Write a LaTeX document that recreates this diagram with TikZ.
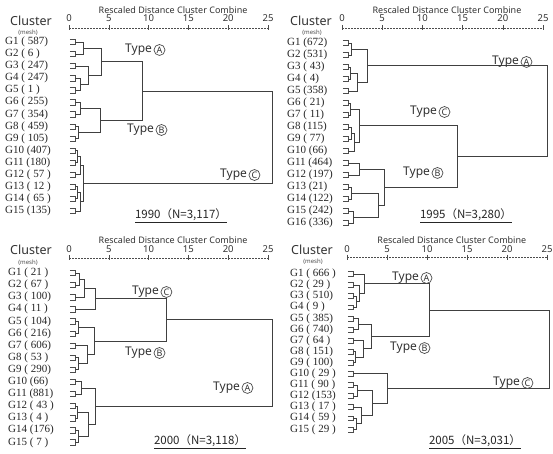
\documentclass[tikz,border=0pt]{standalone}
\usepackage{fontspec}
\setmainfont{Liberation Serif}
\setsansfont{Noto Sans}
\newfontfamily\cjkfont{Noto Sans CJK JP}
\usetikzlibrary{positioning}

% one merge of a dendrogram: child, child, distance, new name
\newcommand{\dgjoin}[4]{%
  \coordinate (#4-h) at (#3,0);
  \draw[dline] (#1) -- (#1 -| #4-h) -- coordinate[pos=0.5] (#4) (#2 -| #4-h) -- (#2);
}

\begin{document}
\begin{tikzpicture}[
  x=1pt, y=-1pt,
  dline/.style={line width=0.9pt, draw=black!75},
  leafln/.style={line width=0.6pt, draw=black!70},
  axisln/.style={line width=0.6pt, draw=black!70, dash pattern=on 1.6pt off 1.4pt},
  axtick/.style={line width=0.6pt, draw=black!70},
  glbl/.style={font=\fontsize{11}{12}\selectfont, inner sep=0pt, anchor=west, text=black!85},
  numlbl/.style={font=\sffamily\fontsize{9.5}{10}\selectfont, inner sep=0pt, text=black!80},
  ttl/.style={font=\sffamily\fontsize{9}{10}\selectfont, inner sep=0pt, text=black!80},
  clus/.style={font=\sffamily\fontsize{12.5}{13}\selectfont, inner sep=0pt, text=black!80},
  meshlbl/.style={font=\sffamily\fontsize{6}{7}\selectfont, inner sep=0pt, text=black!70},
  typelbl/.style={font=\sffamily\fontsize{12}{13}\selectfont, inner sep=0pt, anchor=west, text=black!80},
  circ/.style={draw=black!70, circle, line width=0.7pt, inner sep=0pt, minimum size=11pt,
               font=\sffamily\fontsize{9}{9}\selectfont, text=black!80},
  caplbl/.style={font=\cjkfont\fontsize{11.5}{12}\selectfont, inner sep=0pt, text=black!85},
]
\path[use as bounding box, fill=white] (0,0) rectangle (553,454);

% ================= (a) 1990 =================
\begin{scope}[shift={(69,42)}, x=7.96pt, y=-12.07pt]
  \node[ttl] (a-ttl) at (13.07,-2.65) {Rescaled Distance Cluster Combine};
  \node[clus] (a-clus) at (-4.77,-1.74) {Cluster};
  \node[meshlbl] (a-mesh) at (-5.15,-0.8) {(mesh)};
  \draw[axisln] (0,-1.16) -- (25,-1.16);
  \foreach \d in {0,5,...,25} {
    \draw[axtick] ([yshift=2.5pt]\d,-1.16) -- ([yshift=-2.5pt]\d,-1.16);
    \node[numlbl] (a-n\d) at (\d,-1.99) {\d};
  }
  % groups
  \foreach \t [count=\i from 0] in {G1 ( 587), G2 ( 6 ), G3 ( 247), G4 ( 247), G5 ( 1 ),
      G6 ( 255), G7 ( 354), G8 ( 459), G9 ( 105), G10 (407), G11 (180), G12 ( 57 ),
      G13 ( 12 ), G14 ( 65 ), G15 (135)} {
    \node[glbl] (a-g\i) at (-8.04,\i) {\t};
    \draw[leafln] (0.1,\i-0.22) -| (0.75,\i+0.22) -- (0.1,\i+0.22);
    \coordinate (a\i) at (0.75,\i);
  }
  % tree
  \foreach \p/\q/\h/\nm in {a0/a1/1.8/ax01, a3/a4/1.4/ax34, a2/ax34/2.4/ax24, ax01/ax24/4.1/aA,
      a5/a6/1.5/ax56, a7/a8/1.2/ax78, ax56/ax78/4.0/aB,
      a9/a10/1.1/ax910, ax910/a11/1.4/ax911, a12/a13/1.1/ax1213, ax1213/a14/1.4/ax1214,
      ax911/ax1214/1.8/aC, aA/aB/9.2/aAB, aAB/aC/25.6/aR} {\dgjoin{\p}{\q}{\h}{\nm}}
  % types
  \node[typelbl] (a-tA) at (7.04,0.66) {Type};
  \node[circ, right=1.5pt of a-tA] (a-cA) {A};
  \node[typelbl] (a-tB) at (7.29,7.29) {Type};
  \node[circ, right=1.5pt of a-tB] (a-cB) {B};
  \node[typelbl] (a-tC) at (18.97,11.02) {Type};
  \node[circ, right=1.5pt of a-tC] (a-cC) {C};
  \node[caplbl] (a-cap) at (14.07,14.42) {\underline{1990（N=3,117）}};
\end{scope}

% ================= (b) 1995 =================
\begin{scope}[shift={(342,43)}, x=8.04pt, y=-12pt]
  \node[ttl] (b-ttl) at (13.06,-2.75) {Rescaled Distance Cluster Combine};
  \node[clus] (b-clus) at (-3.86,-1.83) {Cluster};
  \node[meshlbl] (b-mesh) at (-3.73,-0.88) {(mesh)};
  \draw[axisln] (0,-1.25) -- (25,-1.25);
  \foreach \d in {0,5,...,25} {
    \draw[axtick] ([yshift=2.5pt]\d,-1.25) -- ([yshift=-2.5pt]\d,-1.25);
    \node[numlbl] (b-n\d) at (\d,-2.08) {\d};
  }
  % groups
  \foreach \t [count=\i from 0] in {G1 (672), G2 (531), G3 ( 43), G4 ( 4), G5 (358),
      G6 ( 21), G7 ( 11), G8 (115), G9 ( 77), G10 (66), G11 (464), G12 (197),
      G13 (21), G14 (122), G15 (242), G16 (336)} {
    \node[glbl] (b-g\i) at (-6.84,\i) {\t};
    \draw[leafln] (0.1,\i-0.22) -| (0.75,\i+0.22) -- (0.1,\i+0.22);
    \coordinate (b\i) at (0.75,\i);
  }
  % tree
  \foreach \p/\q/\h/\nm in {b0/b1/1.2/bx01, b2/b3/1.1/bx23, bx23/b4/1.9/bx24, bx01/bx24/3.2/bA,
      b5/b6/1.1/bx56, b7/b8/1.2/bx78, bx78/b9/1.6/bx79, bx56/bx79/2.2/bC,
      b10/b11/2.2/bx1011, b12/b13/1.2/bx1213, b14/b15/1.4/bx1415, bx1213/bx1415/4.5/bx1215,
      bx1011/bx1215/5.3/bB, bC/bB/14.3/bCB, bA/bCB/25.6/bR} {\dgjoin{\p}{\q}{\h}{\nm}}
  % types
  \node[typelbl] (b-tA) at (18.66,1.58) {Type};
  \node[circ, right=1.5pt of b-tA] (b-cA) {A};
  \node[typelbl] (b-tC) at (8.46,5.75) {Type};
  \node[circ, right=1.5pt of b-tC] (b-cC) {C};
  \node[typelbl] (b-tB) at (7.59,10.83) {Type};
  \node[circ, right=1.5pt of b-tB] (b-cB) {B};
  \node[caplbl] (b-cap) at (15.42,14.42) {\underline{1995（N=3,280）}};
\end{scope}

% ================= (c) 2000 =================
\begin{scope}[shift={(69,273)}, x=7.96pt, y=-12.1pt]
  \node[ttl] (c-ttl) at (13.07,-2.73) {Rescaled Distance Cluster Combine};
  \node[clus] (c-clus) at (-4.77,-1.90) {Cluster};
  \node[meshlbl] (c-mesh) at (-5.15,-0.86) {(mesh)};
  \draw[axisln] (0,-1.24) -- (25,-1.24);
  \foreach \d in {0,5,...,25} {
    \draw[axtick] ([yshift=2.5pt]\d,-1.24) -- ([yshift=-2.5pt]\d,-1.24);
    \node[numlbl] (c-n\d) at (\d,-1.98) {\d};
  }
  % groups
  \foreach \t [count=\i from 0] in {G1 ( 21 ), G2 ( 67 ), G3 ( 100), G4 ( 11 ), G5 ( 104),
      G6 ( 216), G7 ( 606), G8 ( 53 ), G9 ( 290), G10 (66), G11 (881), G12 ( 43 ),
      G13 ( 4 ), G14 (176), G15 ( 7 )} {
    \node[glbl] (c-g\i) at (-7.66,\i) {\t};
    \draw[leafln] (0.1,\i-0.22) -| (0.75,\i+0.22) -- (0.1,\i+0.22);
    \coordinate (c\i) at (0.75,\i);
  }
  % tree
  \foreach \p/\q/\h/\nm in {c0/c1/1.3/cx01, cx01/c2/2.0/cx02, cx02/c3/3.3/cC,
      c4/c5/1.2/cx45, c7/c8/1.15/cx78, c6/cx78/2.3/cx68, cx45/cx68/3.2/cB,
      c9/c10/1.6/cx910, c11/c12/1.1/cx1112, c13/c14/1.2/cx1314, cx1112/cx1314/2.4/cx1114,
      cx910/cx1114/3.3/cA, cC/cB/12.3/cCB, cCB/cA/25.6/cR} {\dgjoin{\p}{\q}{\h}{\nm}}
  % types
  \node[typelbl] (c-tC) at (7.91,1.57) {Type};
  \node[circ, right=1.5pt of c-tC] (c-cC) {C};
  \node[typelbl] (c-tB) at (7.04,6.61) {Type};
  \node[circ, right=1.5pt of c-tB] (c-cB) {B};
  \node[typelbl] (c-tA) at (18.09,9.50) {Type};
  \node[circ, right=1.5pt of c-tA] (c-cA) {A};
  \node[caplbl] (c-cap) at (16.46,13.97) {\underline{2000（N=3,118）}};
\end{scope}

% ================= (d) 2005 =================
\begin{scope}[shift={(347,274)}, x=8pt, y=-11.1pt]
  \node[ttl] (d-ttl) at (13.1,-3.06) {Rescaled Distance Cluster Combine};
  \node[clus] (d-clus) at (-4.38,-2.16) {Cluster};
  \node[meshlbl] (d-mesh) at (-4.25,-1.1) {(mesh)};
  \draw[axisln] (0,-1.53) -- (25,-1.53);
  \foreach \d in {0,5,...,25} {
    \draw[axtick] ([yshift=2.5pt]\d,-1.53) -- ([yshift=-2.5pt]\d,-1.53);
    \node[numlbl] (d-n\d) at (\d,-2.25) {\d};
  }
  % groups
  \foreach \t [count=\i from 0] in {G1 ( 666 ), G2 ( 29 ), G3 ( 510), G4 ( 9 ), G5 ( 385),
      G6 ( 740), G7 ( 64 ), G8 ( 151), G9 ( 100), G10 ( 29 ), G11 ( 90 ), G12 (153),
      G13 ( 17 ), G14 ( 59 ), G15 ( 29 )} {
    \node[glbl] (d-g\i) at (-7.13,\i) {\t};
    \draw[leafln] (0.1,\i-0.22) -| (0.75,\i+0.22) -- (0.1,\i+0.22);
    \coordinate (d\i) at (0.75,\i);
  }
  % tree
  \foreach \p/\q/\h/\nm in {d2/d3/1.2/dx23, d1/dx23/1.6/dx13, d0/dx13/2.2/dA,
      d4/d5/1.4/dx45, d7/d8/1.1/dx78, d6/dx78/2.0/dx68, dx45/dx68/3.1/dB, dA/dB/10.35/dAB,
      d10/d11/1.3/dx1011, d13/d14/1.15/dx1314, d12/dx1314/1.8/dx1214,
      dx1011/dx1214/3.2/dx1014, d9/dx1014/5.07/dC, dAB/dC/25.3/dR} {\dgjoin{\p}{\q}{\h}{\nm}}
  % types
  \node[typelbl] (d-tA) at (5.63,0.36) {Type};
  \node[circ, right=1.5pt of d-tA] (d-cA) {A};
  \node[typelbl] (d-tB) at (5.38,6.67) {Type};
  \node[circ, right=1.5pt of d-tB] (d-cB) {B};
  \node[typelbl] (d-tC) at (18.25,9.82) {Type};
  \node[circ, right=1.5pt of d-tC] (d-cC) {C};
  \node[caplbl] (d-cap) at (16.0,15.14) {\underline{2005（N=3,031）}};
\end{scope}

\end{tikzpicture}
\end{document}
